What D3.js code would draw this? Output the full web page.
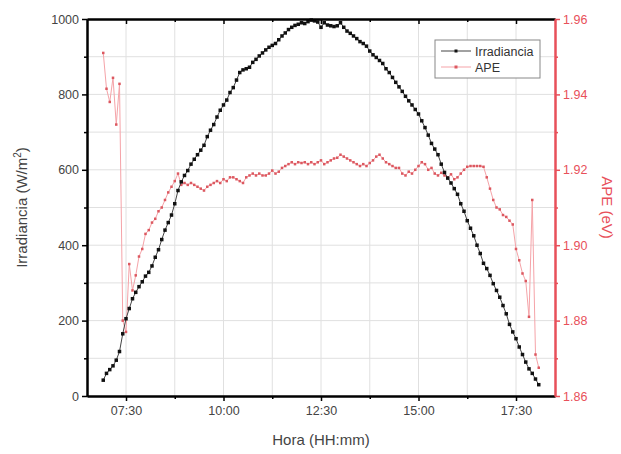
<!DOCTYPE html>
<html>
<head>
<meta charset="utf-8">
<script src="https://cdn.jsdelivr.net/npm/d3@7"></script>
<style>
  body { margin: 0; background: #fff; }
  text { font-family: "Liberation Sans", Arial, sans-serif; }
</style>
</head>
<body>
<div id="chart"></div>
<script>

// time of each sample (HH:mm)
var horas = ["06:55","07:00","07:05","07:10","07:15","07:20","07:25","07:30","07:35","07:40","07:45","07:50","07:55",
  "08:00","08:05","08:10","08:15","08:20","08:25","08:30","08:35","08:40","08:45","08:50","08:55",
  "09:00","09:05","09:10","09:15","09:20","09:25","09:30","09:35","09:40","09:45","09:50","09:55",
  "10:00","10:05","10:10","10:15","10:20","10:25","10:30","10:35","10:40","10:45","10:50","10:55",
  "11:00","11:05","11:10","11:15","11:20","11:25","11:30","11:35","11:40","11:45","11:50","11:55",
  "12:00","12:05","12:10","12:15","12:20","12:25","12:30","12:35","12:40","12:45","12:50","12:55",
  "13:00","13:05","13:10","13:15","13:20","13:25","13:30","13:35","13:40","13:45","13:50","13:55",
  "14:00","14:05","14:10","14:15","14:20","14:25","14:30","14:35","14:40","14:45","14:50","14:55",
  "15:00","15:05","15:10","15:15","15:20","15:25","15:30","15:35","15:40","15:45","15:50","15:55",
  "16:00","16:05","16:10","16:15","16:20","16:25","16:30","16:35","16:40","16:45","16:50","16:55",
  "17:00","17:05","17:10","17:15","17:20","17:25","17:30","17:35","17:40","17:45","17:50","17:55",
  "18:00","18:05"];

// W/m2
var irradiancia = [42, 60, 70, 80, 95, 118, 165, 205, 232, 258, 275, 290, 303,
  318, 328, 345, 368, 388, 415, 440, 460, 480, 510, 545, 568,
  585, 598, 615, 628, 640, 652, 665, 688, 705, 720, 740, 758,
  772, 785, 805, 818, 838, 858, 865, 868, 872, 885, 893, 902,
  910, 918, 925, 930, 935, 945, 955, 963, 972, 978, 983, 986,
  990, 988, 993, 997, 995, 992, 978, 990, 984, 982, 980, 982,
  990, 978, 968, 962, 955, 948, 940, 935, 928, 915, 905, 898,
  890, 882, 868, 858, 845, 832, 820, 808, 795, 783, 772, 760,
  748, 730, 712, 692, 670, 655, 640, 615, 593, 578, 565, 550,
  535, 510, 490, 465, 445, 425, 400, 378, 352, 338, 320, 298,
  280, 262, 240, 218, 190, 170, 152, 130, 110, 90, 72, 60,
  45, 30];

// eV
var ape = [1.951, 1.9415, 1.938, 1.9444, 1.932, 1.9428, 1.880, 1.877, 1.895, 1.888, 1.892, 1.897, 1.899,
  1.903, 1.904, 1.906, 1.907, 1.909, 1.910, 1.912, 1.914, 1.9155, 1.917, 1.919, 1.916,
  1.9165, 1.916, 1.9165, 1.916, 1.9155, 1.915, 1.9145, 1.9155, 1.916, 1.9165, 1.917, 1.9165,
  1.9175, 1.917, 1.918, 1.918, 1.9175, 1.917, 1.9165, 1.918, 1.9185, 1.919, 1.9185, 1.919,
  1.9185, 1.9185, 1.919, 1.9198, 1.919, 1.9195, 1.9205, 1.921, 1.9215, 1.922, 1.9215, 1.922,
  1.9218, 1.922, 1.9215, 1.922, 1.9215, 1.922, 1.9225, 1.9215, 1.922, 1.9225, 1.923, 1.9232,
  1.924, 1.9235, 1.923, 1.9225, 1.922, 1.9215, 1.921, 1.9215, 1.921, 1.9218, 1.9225, 1.9235,
  1.924, 1.923, 1.922, 1.9215, 1.921, 1.9205, 1.9205, 1.919, 1.9185, 1.9195, 1.919, 1.920,
  1.921, 1.922, 1.9215, 1.920, 1.9205, 1.919, 1.9185, 1.9192, 1.9185, 1.918, 1.9188, 1.9175,
  1.918, 1.919, 1.920, 1.9208, 1.921, 1.921, 1.921, 1.921, 1.9208, 1.918, 1.915, 1.912,
  1.910, 1.9095, 1.908, 1.9075, 1.9065, 1.9055, 1.899, 1.896, 1.8925, 1.8905, 1.881, 1.912,
  1.871, 1.8675];

var xTicks = ["07:30", "10:00", "12:30", "15:00", "17:30"];
var xMinor = ["08:45", "11:15", "13:45", "16:15"];
var yTicks = [0, 200, 400, 600, 800, 1000];
var yMinor = [100, 300, 500, 700, 900];
var y2Ticks = [1.86, 1.88, 1.90, 1.92, 1.94, 1.96];
var y2Minor = [1.87, 1.89, 1.91, 1.93, 1.95];
var series = ["Irradiancia", "APE"];

var RED = "#e8505a";
var RED_LINE = "#f5a3a8";
var RED_MARK = "#dc5860";

function toMin(s) {
    var p = s.split(":");
    return +p[0] * 60 + +p[1];
}

var data = horas.map(function(h, i) {
    return {t: toMin(h), irr: irradiancia[i], ape: ape[i]};
});

var margin = {top: 19, right: 66, bottom: 58, left: 87},
    width = 621 - margin.left - margin.right,
    height = 454 - margin.top - margin.bottom;

var svg = d3.select("#chart").append("svg")
    .attr("width", 621)
    .attr("height", 454)
    .append("g")
    .attr("transform", "translate(" + margin.left + "," + margin.top + ")");

var x = d3.scaleLinear().domain([toMin("06:30"), toMin("18:30")]).range([0, width]);
var y = d3.scaleLinear().domain([0, 1000]).range([height, 0]);
var y2 = d3.scaleLinear().domain([1.86, 1.96]).range([height, 0]);

// grid
svg.append("g").selectAll("line.gx")
    .data(xTicks.concat(xMinor))
    .enter().append("line")
    .attr("class", "gx")
    .attr("x1", function(d) { return x(toMin(d)); })
    .attr("x2", function(d) { return x(toMin(d)); })
    .attr("y1", 0).attr("y2", height)
    .attr("stroke", "#e0e0e0").attr("stroke-width", 1);

svg.append("g").selectAll("line.gy")
    .data(yTicks.concat(yMinor).filter(function(d) { return d > 0 && d < 1000; }))
    .enter().append("line")
    .attr("class", "gy")
    .attr("x1", 0).attr("x2", width)
    .attr("y1", function(d) { return y(d); })
    .attr("y2", function(d) { return y(d); })
    .attr("stroke", "#e0e0e0").attr("stroke-width", 1);

// APE series
var lineApe = d3.line()
    .x(function(d) { return x(d.t); })
    .y(function(d) { return y2(d.ape); });

svg.append("path")
    .datum(data)
    .attr("d", lineApe)
    .attr("fill", "none")
    .attr("stroke", RED_LINE)
    .attr("stroke-width", 1);

svg.selectAll("rect.ape")
    .data(data)
    .enter().append("rect")
    .attr("class", "ape")
    .attr("x", function(d) { return x(d.t) - 1.25; })
    .attr("y", function(d) { return y2(d.ape) - 1.25; })
    .attr("width", 2.5).attr("height", 2.5)
    .attr("fill", RED_MARK);

// Irradiance series
var lineIrr = d3.line()
    .x(function(d) { return x(d.t); })
    .y(function(d) { return y(d.irr); });

svg.append("path")
    .datum(data)
    .attr("d", lineIrr)
    .attr("fill", "none")
    .attr("stroke", "#444")
    .attr("stroke-width", 1);

svg.selectAll("rect.irr")
    .data(data)
    .enter().append("rect")
    .attr("class", "irr")
    .attr("x", function(d) { return x(d.t) - 1.75; })
    .attr("y", function(d) { return y(d.irr) - 1.75; })
    .attr("width", 3.5).attr("height", 3.5)
    .attr("fill", "#111");

// axes
function styleAxis(g, color) {
    g.select(".domain").attr("stroke", color).attr("stroke-width", 2);
    g.selectAll(".tick line").attr("stroke", color).attr("stroke-width", 1.5);
    g.selectAll(".tick text").attr("fill", color === "#000" ? "#444" : color)
        .attr("font-size", 12.5)
        .attr("font-family", "Liberation Sans, Arial, sans-serif");
}

var xAxis = svg.append("g")
    .attr("transform", "translate(0," + height + ")")
    .call(d3.axisBottom(x).tickValues(xTicks.map(toMin))
        .tickFormat(function(d, i) { return xTicks[i]; })
        .tickSize(5).tickPadding(5).tickSizeOuter(0));
styleAxis(xAxis, "#000");

var xAxisMinor = svg.append("g")
    .attr("transform", "translate(0," + height + ")")
    .call(d3.axisBottom(x).tickValues(xMinor.map(toMin)).tickFormat("").tickSize(3).tickSizeOuter(0));
styleAxis(xAxisMinor, "#000");

var xTop = svg.append("g")
    .call(d3.axisBottom(x).tickValues(xTicks.map(toMin)).tickFormat("").tickSize(5).tickSizeOuter(0));
styleAxis(xTop, "#000");
var xTopMinor = svg.append("g")
    .call(d3.axisBottom(x).tickValues(xMinor.map(toMin)).tickFormat("").tickSize(3).tickSizeOuter(0));
styleAxis(xTopMinor, "#000");

var yAxis = svg.append("g")
    .call(d3.axisLeft(y).tickValues(yTicks).tickFormat(d3.format("d"))
        .tickSize(5).tickPadding(3).tickSizeOuter(0));
styleAxis(yAxis, "#000");
var yAxisMinor = svg.append("g")
    .call(d3.axisLeft(y).tickValues(yMinor).tickFormat("").tickSize(3).tickSizeOuter(0));
styleAxis(yAxisMinor, "#000");

var y2Axis = svg.append("g")
    .attr("transform", "translate(" + width + ",0)")
    .call(d3.axisRight(y2).tickValues(y2Ticks).tickFormat(d3.format(".2f"))
        .tickSize(5).tickPadding(3).tickSizeOuter(0));
styleAxis(y2Axis, RED);
var y2AxisMinor = svg.append("g")
    .attr("transform", "translate(" + width + ",0)")
    .call(d3.axisRight(y2).tickValues(y2Minor).tickFormat("").tickSize(3).tickSizeOuter(0));
styleAxis(y2AxisMinor, RED);

// axis titles
svg.append("text")
    .attr("x", width / 2)
    .attr("y", height + 49)
    .attr("text-anchor", "middle")
    .attr("font-size", 15)
    .attr("fill", "#444")
    .text("Hora (HH:mm)");

var yTitle = svg.append("text")
    .attr("transform", "translate(-60," + (height / 2) + ") rotate(-90)")
    .attr("text-anchor", "middle")
    .attr("font-size", 15)
    .attr("fill", "#444");
yTitle.append("tspan").text("Irradiancia (W/m");
yTitle.append("tspan").attr("dy", -6).attr("font-size", 10).text("2");
yTitle.append("tspan").attr("dy", 6).text(")");

svg.append("text")
    .attr("transform", "translate(" + (width + 47) + "," + (height / 2) + ") rotate(90)")
    .attr("text-anchor", "middle")
    .attr("font-size", 15)
    .attr("fill", RED)
    .text("APE (eV)");

// legend
var legend = svg.append("g")
    .attr("transform", "translate(" + (435 - margin.left) + "," + (40 - margin.top) + ")");

legend.append("rect")
    .attr("width", 105).attr("height", 38)
    .attr("fill", "#fff")
    .attr("stroke", "#888").attr("stroke-width", 1);

var items = legend.selectAll("g.item")
    .data(series)
    .enter().append("g")
    .attr("class", "item")
    .attr("transform", function(d, i) { return "translate(0," + (11 + i * 16) + ")"; });

items.append("line")
    .attr("x1", 6).attr("x2", 36)
    .attr("stroke", function(d) { return d === "APE" ? RED_LINE : "#444"; });

items.append("rect")
    .attr("x", 19.5).attr("y", -1.5)
    .attr("width", 3).attr("height", 3)
    .attr("fill", function(d) { return d === "APE" ? RED_MARK : "#111"; });

items.append("text")
    .attr("x", 40).attr("y", 4.5)
    .attr("font-size", 12.5)
    .attr("fill", "#333")
    .text(function(d) { return d; });

</script>
</body>
</html>
